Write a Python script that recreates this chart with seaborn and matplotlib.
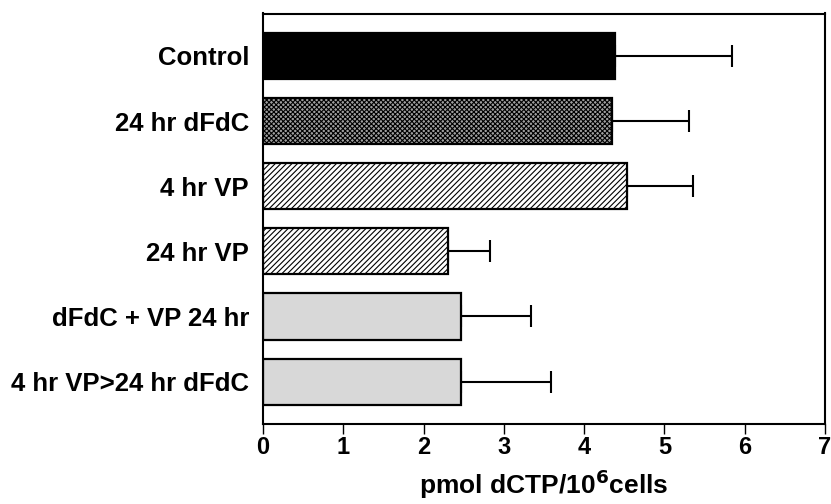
import matplotlib
matplotlib.use("Agg")
import matplotlib.pyplot as plt
import seaborn as sns
import pandas as pd

categories = ["Control", "24 hr dFdC", "4 hr VP", "24 hr VP",
              "dFdC + VP 24 hr", "4 hr VP>24 hr dFdC"]
means = [4.38, 4.35, 4.53, 2.31, 2.47, 2.47]
errors = [1.46, 0.96, 0.83, 0.52, 0.87, 1.12]
x_ticks = [0, 1, 2, 3, 4, 5, 6, 7]

sns.set_theme(style="white")
plt.rcParams["font.family"] = ["Liberation Sans", "DejaVu Sans"]
plt.rcParams["hatch.linewidth"] = 0.8
plt.rcParams["text.color"] = "black"
plt.rcParams["xtick.color"] = "black"
plt.rcParams["ytick.color"] = "black"
plt.rcParams["axes.labelcolor"] = "black"

df = pd.DataFrame({"cat": categories, "val": means})

fig = plt.figure(figsize=(8.31, 5.04), dpi=100)
ax = fig.add_axes([263 / 831, 1 - 424 / 504, (825 - 263) / 831, (424 - 13.5) / 504])

sns.barplot(data=df, x="val", y="cat", orient="h", ax=ax, width=0.71,
            color="white", edgecolor="black", linewidth=1.6, errorbar=None,
            saturation=1)

faces = ["black", "#a0a0a0", "white", "white", "#d8d8d8", "#d8d8d8"]
hatches = [None, "xxxxxxx", "//////", "//////", None, None]
for p, fc, h in zip(ax.patches, faces, hatches):
    p.set_facecolor(fc)
    if h:
        p.set_hatch(h)

ypos = list(range(len(categories)))
ax.errorbar(means, ypos, xerr=[[0] * len(errors), errors], fmt="none",
            ecolor="black", elinewidth=1.5, capsize=8, capthick=1.5, zorder=0.5)

ax.set_xlim(0, 7)
ax.set_ylim(len(categories) - 0.35, -0.65)
ax.set_xticks(x_ticks)
ax.set_xticklabels([str(t) for t in x_ticks], fontsize=17, fontweight="bold")
ax.tick_params(axis="x", direction="out", length=7, width=1, pad=1.5, bottom=True, color="black")
ax.tick_params(axis="y", length=0, pad=10)
for lab in ax.get_yticklabels():
    lab.set_fontsize(18.5)
    lab.set_fontweight("bold")
ax.set_ylabel("")
ax.set_xlabel("pmol dCTP/10$^{\\mathbf{6}}$cells", fontsize=19, fontweight="bold", labelpad=6)
for s in ax.spines.values():
    s.set_visible(True)
    s.set_color("black")
    s.set_linewidth(1.5)

fig.savefig("out.png", dpi=100)
